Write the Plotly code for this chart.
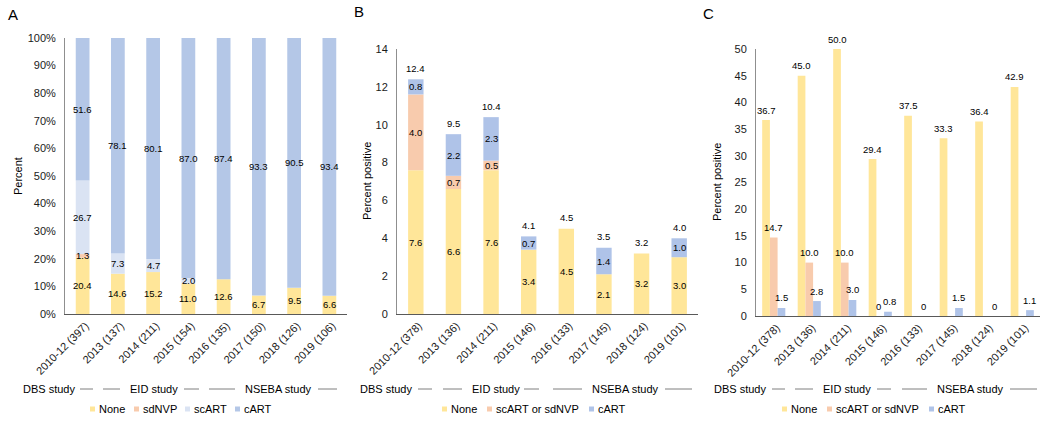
import numpy as np
import plotly.graph_objects as go

W, H = 1050, 422
FONT = "Liberation Sans, Arial, sans-serif"

# ---------------- data ----------------
cat_a = ["2010-12 (397)", "2013 (137)", "2014 (211)", "2015 (154)",
         "2016 (135)", "2017 (150)", "2018 (126)", "2019 (106)"]
cat_b = ["2010-12 (378)", "2013 (136)", "2014 (211)", "2015 (146)",
         "2016 (133)", "2017 (145)", "2018 (124)", "2019 (101)"]
cat_c = ["2010-12 (378)", "2013 (136)", "2014 (211)", "2015 (146)",
         "2016 (133)", "2017 (145)", "2018 (124)", "2019 (101)"]

a_none = [20.4, 14.6, 15.2, 11.0, 12.6, 6.7, 9.5, 6.6]
a_sdnvp = [1.3, 0, 0, 0, 0, 0, 0, 0]
a_scart = [26.7, 7.3, 4.7, 2.0, 0, 0, 0, 0]
a_cart = [51.6, 78.1, 80.1, 87.0, 87.4, 93.3, 90.5, 93.4]

b_none = [7.6, 6.6, 7.6, 3.4, 4.5, 2.1, 3.2, 3.0]
b_sc = [4.0, 0.7, 0.5, 0, 0, 0, 0, 0]
b_cart = [0.8, 2.2, 2.3, 0.7, 0, 1.4, 0, 1.0]
b_total = [12.4, 9.5, 10.4, 4.1, 4.5, 3.5, 3.2, 4.0]

c_none = [36.7, 45.0, 50.0, 29.4, 37.5, 33.3, 36.4, 42.9]
c_sc = [14.7, 10.0, 10.0, 0, None, None, None, None]
c_cart = [1.5, 2.8, 3.0, 0.8, 0, 1.5, 0, 1.1]

legend_a = ["None", "sdNVP", "scART", "cART"]
legend_bc = ["None", "scART or sdNVP", "cART"]
study_labels = ["DBS study", "EID study", "NSEBA study"]

# ---------------- styles ----------------
C_NONE = "#FFE699"
C_SD = "#F8CBAD"
C_SC = "#DAE3F3"
C_CART_A = "#B4C7E7"
C_CART = "#AFC3E8"
TXT = "#000000"
LBL = dict(family=FONT, size=9.5, color=TXT)


def px(x):
    return x / W


def py(y):
    return 1 - y / H


fig = go.Figure()
idx = list(range(8))


def fmt(v):
    return "0" if v == 0 else f"{v:.1f}"


def add_stack(series, colors, names, xa, ya, width):
    base = np.zeros(8)
    for vals, col, name in zip(series, colors, names):
        v = np.array(vals, float)
        fig.add_trace(go.Bar(x=idx, y=v, base=base.copy(), width=width,
                             marker=dict(color=col, line=dict(width=0)),
                             name=name, xaxis=xa, yaxis=ya, showlegend=False))
        for i in range(8):
            if v[i] > 0:
                fig.add_annotation(x=i, y=base[i] + v[i] / 2, text=fmt(v[i]),
                                   xref=xa, yref=ya, showarrow=False, font=LBL)
        base += v


# Panel A
add_stack([a_none, a_sdnvp, a_scart, a_cart], [C_NONE, C_SD, C_SC, C_CART_A],
          legend_a, "x", "y", 0.39)

# Panel B
add_stack([b_none, b_sc, b_cart], [C_NONE, C_SD, C_CART], legend_bc, "x2", "y2", 0.41)
for i, t in enumerate(b_total):
    fig.add_annotation(x=i, y=t, text=fmt(t), xref="x2", yref="y2", yshift=11,
                       showarrow=False, font=LBL)

# Panel C (grouped)
bw = 0.217
for k, (vals, col, name) in enumerate(zip([c_none, c_sc, c_cart],
                                          [C_NONE, C_SD, C_CART], legend_bc)):
    off = -1.5 * bw + k * bw
    fig.add_trace(go.Bar(x=idx, y=vals, width=bw, offset=off,
                         marker=dict(color=col, line=dict(width=0)),
                         name=name, xaxis="x3", yaxis="y3", showlegend=False))
    for i, v in enumerate(vals):
        if v is None:
            continue
        # nudge the crowded 2015 pair ("0" and "0.8") apart slightly
        nudge = 0
        if i == 3 and k == 1:
            nudge = -2
        elif i == 3 and k == 2:
            nudge = 2
        fig.add_annotation(x=i + off + bw / 2, y=v, text=fmt(v), xref="x3", yref="y3",
                           yshift=10, xshift=nudge, showarrow=False, font=LBL)

# ---------------- axes ----------------
tickfont = dict(family=FONT, size=11, color="#1a1a1a")


def xax(dom, cats):
    return dict(domain=dom, range=[-0.5, 7.5], tickmode="array", tickvals=idx,
                ticktext=cats, tickangle=-45, showline=True, linecolor="#595959",
                linewidth=1, ticks="", showgrid=False, zeroline=False,
                tickfont=tickfont, fixedrange=True, automargin=False,
                ticklabelshift=3)


def yax(dom, rng, step, suffix=""):
    vals = list(np.arange(rng[0], rng[1] + 0.001, step))
    return dict(domain=dom, range=rng, tickmode="array", tickvals=vals,
                ticktext=[f"{int(v)}{suffix}" for v in vals], showline=True,
                linecolor="#8f8f8f", linewidth=1, ticks="", showgrid=False,
                zeroline=False, tickfont=tickfont, ticklabelstandoff=6,
                fixedrange=True, automargin=False)


fig.update_layout(
    template="none",
    width=W, height=H, autosize=False,
    margin=dict(l=0, r=0, t=0, b=0, pad=0),
    paper_bgcolor="white", plot_bgcolor="white",
    barmode="overlay", showlegend=False,
    font=dict(family=FONT, size=11, color=TXT),
    xaxis=dict(xax([px(65), px(347)], cat_a), anchor="y"),
    yaxis=dict(yax([py(314), py(38)], [0, 100], 10, "%"), anchor="x"),
    xaxis2=dict(xax([px(397), px(698)], cat_b), anchor="y2"),
    yaxis2=dict(yax([py(314), py(49)], [0, 14], 2), anchor="x2"),
    xaxis3=dict(xax([px(756), px(1040)], cat_c), anchor="y3"),
    yaxis3=dict(yax([py(316), py(49)], [0, 50], 5), anchor="x3"),
)

# ---------------- decorations ----------------
def text(x, y, s, size=11, anchor="left", angle=0):
    fig.add_annotation(x=px(x), y=py(y), xref="paper", yref="paper", text=s,
                       showarrow=False, xanchor=anchor, yanchor="middle",
                       textangle=angle, font=dict(family=FONT, size=size, color=TXT))


# panel letters
text(6, 14, "A", 15)
text(352, 12, "B", 15)
text(701, 13, "C", 15)

# y-axis titles
text(18, 176, "Percent", 11, "center", -90)
text(367, 181, "Percent positive", 11, "center", -90)
text(717, 182, "Percent positive", 11, "center", -90)

# study rows: (text positions), (line segments)
study_rows = [
    (389, [21, 128, 243], [(80, 93), (103, 120), (184, 199), (209, 235), (318, 337)]),
    (389, [358, 470, 590], [(418, 432), (443, 462), (524, 539), (553, 582), (665, 692)]),
    (389, [712, 821, 935], [(772, 785), (795, 813), (877, 891), (902, 927), (1010, 1037)]),
]
for yrow, xs, segs in study_rows:
    for xt, lab in zip(xs, study_labels):
        text(xt, yrow, lab, 11)
    for x0, x1 in segs:
        fig.add_shape(type="line", xref="paper", yref="paper", x0=px(x0), x1=px(x1),
                      y0=py(yrow), y1=py(yrow), line=dict(color="#7f7f7f", width=1))

# legends
legends = [
    (409, legend_a, [C_NONE, C_SD, C_SC, C_CART_A], [90, 134, 185, 235]),
    (409, legend_bc, [C_NONE, C_SD, C_CART], [442, 487, 589]),
    (409, legend_bc, [C_NONE, C_SD, C_CART], [782, 827, 929]),
]
for yl, names, cols, xs in legends:
    for nm, col, xs0 in zip(names, cols, xs):
        fig.add_shape(type="rect", xref="paper", yref="paper", x0=px(xs0), x1=px(xs0 + 5),
                      y0=py(yl + 2.5), y1=py(yl - 2.5), fillcolor=col, line=dict(width=0))
        text(xs0 + 7, yl, nm, 11)

fig.write_html("out.html",
               config={"displayModeBar": False, "staticPlot": True},
               post_script="document.body.style.margin='0';"
                           "document.body.style.overflow='hidden';")
